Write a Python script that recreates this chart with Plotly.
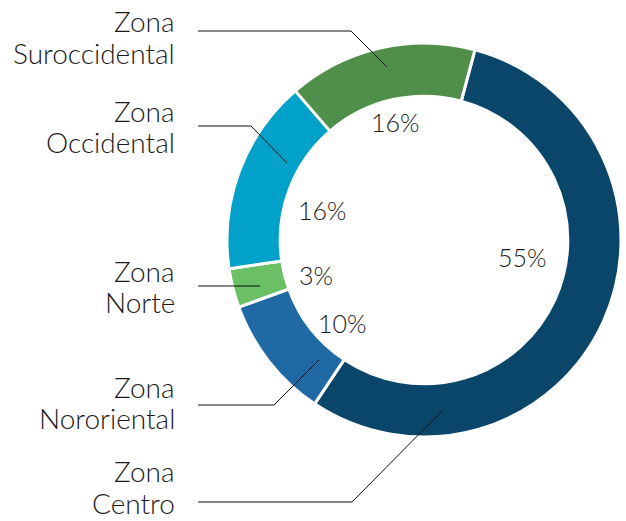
import math
import plotly.graph_objects as go

# ---------------- data ----------------
zones = ["Zona Centro", "Zona Nororiental", "Zona Norte", "Zona Occidental", "Zona Suroccidental"]
zone_lines = [["Zona", "Centro"], ["Zona", "Nororiental"], ["Zona", "Norte"],
              ["Zona", "Occidental"], ["Zona", "Suroccidental"]]
shares = [55.2, 10.1, 3.2, 16.0, 15.5]
pct_labels = ["55%", "10%", "3%", "16%", "16%"]

# ---------------- style / layout ----------------
colors = ["#0A466A", "#1F6AA5", "#6BBF65", "#02A1C9", "#4F8F4B"]
W, H = 626, 521
CX, CY, R = 424, 240, 197          # donut centre / outer radius in px
HOLE = 0.73
ROTATION = 15
FONT = dict(family="Lato, Roboto, 'DejaVu Sans', sans-serif", size=28, color="#1a1a1a", weight=300)
PCT_FONT = dict(family="Lato, Roboto, 'DejaVu Sans', sans-serif", size=25, color="#1a1a1a", weight=300)

# percent label placement: radius (px) + small manual nudges (px, screen down = +)
PCT_R = 115
pct_nudge = [(-6, -30), (9, 12), (4, 7), (6, 10), (-3, -6)]

# outer labels: right edge x, baseline of line 1 / line 2, leader (y, bend x, end x, end y)
LABEL_X = 177
CAP_MID = 10
label_baselines = [(481, 513), (397, 428), (281, 312), (121, 152), (31, 63)]
leaders = [(502, 352, 442, 411), (405, 274, 319, 360), (286, 260, 260, 286),
           (126, 251, 287, 163), (31, 351, 387, 67)]
LEADER_X0 = 198


def px(x):
    return x / W


def py(y):
    return 1 - y / H


fig = go.Figure(go.Pie(
    values=shares,
    labels=zones,
    sort=False,
    direction="clockwise",
    rotation=ROTATION,
    hole=HOLE,
    textinfo="none",
    hoverinfo="label+percent",
    marker=dict(colors=colors, line=dict(color="white", width=3)),
    domain=dict(x=[px(CX - R), px(CX + R)], y=[py(CY + R), py(CY - R)]),
    showlegend=False,
))

annotations = []
total = sum(shares)
cum = 0.0
for v, txt, (nx, ny) in zip(shares, pct_labels, pct_nudge):
    mid = math.radians(ROTATION + 360 * (cum + v / 2) / total)
    cum += v
    x = CX + PCT_R * math.sin(mid) + nx
    y = CY - PCT_R * math.cos(mid) + ny
    annotations.append(dict(x=px(x), y=py(y), xref="paper", yref="paper", text=txt,
                            showarrow=False, font=PCT_FONT, xanchor="center", yanchor="middle"))

for lines, bases in zip(zone_lines, label_baselines):
    for line, base in zip(lines, bases):
        annotations.append(dict(x=px(LABEL_X), y=py(base - CAP_MID), xref="paper", yref="paper",
                                text=line, align="right", showarrow=False,
                                font=FONT, xanchor="right", yanchor="middle"))

shapes = []
for (ly, bx, ex, ey) in leaders:
    path = f"M {px(LEADER_X0)} {py(ly)} L {px(bx)} {py(ly)} L {px(ex)} {py(ey)}"
    shapes.append(dict(type="path", xref="paper", yref="paper", path=path,
                       line=dict(color="#111111", width=1)))

fig.update_layout(
    width=W, height=H,
    margin=dict(l=0, r=0, t=0, b=0),
    paper_bgcolor="white", plot_bgcolor="white",
    annotations=annotations,
    shapes=shapes,
)

fig.write_html("out.html", config={"displayModeBar": False},
               post_script="document.body.style.margin='0';")
